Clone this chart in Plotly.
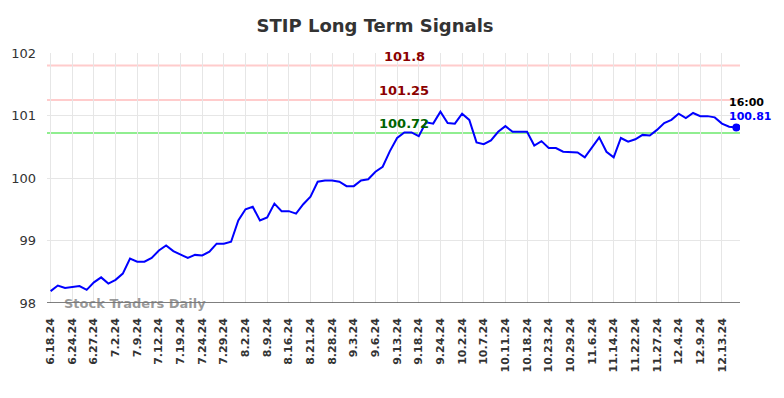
import plotly.graph_objects as go

dates = [
    "6.18.24", "6.20.24", "6.21.24", "6.24.24", "6.25.24", "6.26.24",
    "6.27.24", "6.28.24", "7.1.24", "7.2.24", "7.3.24", "7.5.24",
    "7.9.24", "7.10.24", "7.11.24", "7.12.24", "7.15.24", "7.17.24",
    "7.19.24", "7.22.24", "7.23.24", "7.24.24", "7.25.24", "7.26.24",
    "7.29.24", "7.30.24", "8.1.24", "8.2.24", "8.5.24", "8.7.24",
    "8.9.24", "8.12.24", "8.14.24", "8.16.24", "8.19.24", "8.20.24",
    "8.21.24", "8.23.24", "8.26.24", "8.28.24", "8.29.24", "8.30.24",
    "9.3.24", "9.4.24", "9.5.24", "9.6.24", "9.10.24", "9.11.24",
    "9.13.24", "9.16.24", "9.17.24", "9.18.24", "9.19.24", "9.20.24",
    "9.24.24", "9.26.24", "9.30.24", "10.2.24", "10.3.24", "10.4.24",
    "10.7.24", "10.8.24", "10.9.24", "10.11.24", "10.15.24", "10.16.24",
    "10.18.24", "10.21.24", "10.22.24", "10.23.24", "10.24.24", "10.28.24",
    "10.29.24", "10.31.24", "11.4.24", "11.6.24", "11.8.24", "11.12.24",
    "11.14.24", "11.18.24", "11.20.24", "11.22.24", "11.25.24", "11.26.24",
    "11.27.24", "11.29.24", "12.2.24", "12.4.24", "12.5.24", "12.6.24",
    "12.9.24", "12.10.24", "12.11.24", "12.13.24", "12.16.24", "12.17.24",
]

prices = [
    98.19, 98.28, 98.24, 98.26, 98.27, 98.21, 98.33, 98.41, 98.31, 98.37,
    98.47, 98.71, 98.66, 98.66, 98.72, 98.84, 98.92, 98.83, 98.77, 98.72,
    98.77, 98.76, 98.82, 98.95, 98.95, 98.98, 99.32, 99.50, 99.54, 99.32,
    99.37, 99.59, 99.47, 99.47, 99.43, 99.58, 99.70, 99.94, 99.96, 99.96,
    99.94, 99.87, 99.87, 99.96, 99.98, 100.10, 100.18, 100.43, 100.64, 100.73,
    100.73, 100.67, 100.89, 100.87, 101.06, 100.88, 100.87, 101.03, 100.93, 100.57,
    100.54, 100.60, 100.74, 100.83, 100.74, 100.74, 100.74, 100.52, 100.59, 100.48,
    100.48, 100.42, 100.41, 100.41, 100.33, 100.49, 100.65, 100.42, 100.33, 100.64,
    100.58, 100.62, 100.69, 100.68, 100.77, 100.88, 100.93, 101.03, 100.96, 101.04,
    100.99, 100.99, 100.97, 100.87, 100.82, 100.81,
]

tick_labels = dates[::3]

resistance_high = 101.8
resistance_mid = 101.25
support = 100.72
last_time = "16:00"

y_ticks = [98, 99, 100, 101, 102]

fig = go.Figure()

fig.add_trace(go.Scatter(
    x=dates, y=prices, mode="lines",
    line=dict(color="#0000ff", width=2),
    hoverinfo="skip", showlegend=False,
))
fig.add_trace(go.Scatter(
    x=[dates[-1]], y=[prices[-1]], mode="markers",
    marker=dict(color="#0000ff", size=8),
    hoverinfo="skip", showlegend=False,
))

for val, col in [(resistance_high, "#ffcccc"), (resistance_mid, "#ffcccc"), (support, "#90ee90")]:
    fig.add_shape(type="line", xref="paper", x0=0, x1=1, yref="y", y0=val, y1=val,
                  line=dict(color=col, width=2), layer="below")

label_x = dates[49]
for val, col in [(resistance_high, "#8b0000"), (resistance_mid, "#8b0000"), (support, "#006400")]:
    fig.add_annotation(x=label_x, y=val, text=f"<b>{val:g}</b>", showarrow=False,
                       yanchor="bottom", yshift=0,
                       font=dict(family="DejaVu Sans", size=13, color=col))

fig.add_annotation(x=dates[-1], y=prices[-1], text=f"<b>{last_time}</b>", showarrow=False,
                   xanchor="left", yanchor="bottom", xshift=-9, yshift=16,
                   font=dict(family="DejaVu Sans", size=11, color="#000000"))
fig.add_annotation(x=dates[-1], y=prices[-1], text=f"<b>{prices[-1]:.2f}</b>", showarrow=False,
                   xanchor="left", yanchor="bottom", xshift=-9, yshift=2,
                   font=dict(family="DejaVu Sans", size=11, color="#0000ff"))

fig.add_annotation(xref="paper", yref="paper", x=0.022, y=0.0, text="<b>Stock Traders Daily</b>",
                   showarrow=False, xanchor="left", yanchor="middle",
                   font=dict(family="DejaVu Sans", size=13, color="rgba(120,120,120,0.75)"))

fig.update_layout(
    width=776, height=390,
    margin=dict(l=39, r=44, t=45, b=95),
    paper_bgcolor="white", plot_bgcolor="white",
    title=dict(text="<b>STIP Long Term Signals</b>", x=0.473, xanchor="center", y=0.954, yanchor="middle",
               font=dict(family="DejaVu Sans", size=18, color="#333333")),
    font=dict(family="DejaVu Sans"),
)
fig.update_xaxes(
    type="category", range=[-0.5, len(dates) - 0.5], automargin=False,
    tickmode="array", tickvals=tick_labels, ticktext=[f"<b>{t}</b>" for t in tick_labels],
    tickangle=-90, tickfont=dict(size=11, color="#333333"), ticklabelstandoff=12,
    showgrid=True, gridcolor="#e6e6e6", gridwidth=1,
    showline=False, zeroline=False, ticks="",
)
fig.update_yaxes(
    range=[98, 102], tickmode="array", tickvals=y_ticks, automargin=False,
    tickfont=dict(size=13, color="#333333"), ticklabelstandoff=10,
    showgrid=True, gridcolor="#e6e6e6", gridwidth=1,
    zeroline=False, showline=False, ticks="",
)
fig.add_shape(type="line", xref="paper", x0=0, x1=1, yref="y", y0=98, y1=98,
              line=dict(color="#555555", width=1.5))

fig.write_html("out.html")
